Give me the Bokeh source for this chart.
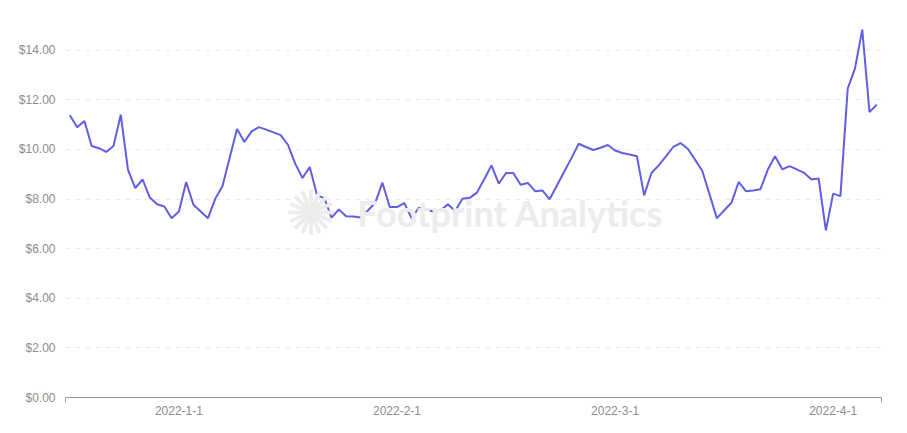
from bokeh.plotting import figure
from bokeh.models import Range1d, FixedTicker, NumeralTickFormatter, Label
from bokeh.embed import file_html
from bokeh.resources import INLINE

# Daily price values (USD)
price = [
    11.38, 10.90, 11.15, 10.14, 10.05, 9.90, 10.14, 11.40, 9.18, 8.44,
    8.79, 8.06, 7.79, 7.70, 7.23, 7.50, 8.69, 7.77, 7.50, 7.23,
    8.01, 8.53, 9.69, 10.83, 10.30, 10.73, 10.90, 10.80, 10.69, 10.58,
    10.19, 9.43, 8.85, 9.29, 8.15, 8.04, 7.25, 7.58, 7.31, 7.30,
    7.26, 7.54, 7.85, 8.66, 7.68, 7.68, 7.84, 7.23, 7.65, 7.58,
    7.50, 7.54, 7.79, 7.52, 8.01, 8.05, 8.26, 8.80, 9.36, 8.62,
    9.05, 9.05, 8.58, 8.65, 8.32, 8.35, 7.99, 8.55, 9.10, 9.65,
    10.23, 10.10, 9.98, 10.07, 10.18, 9.96, 9.86, 9.80, 9.73, 8.15,
    9.05, 9.36, 9.72, 10.10, 10.26, 10.03, 9.59, 9.13, 8.19, 7.23,
    7.54, 7.85, 8.69, 8.32, 8.35, 8.40, 9.18, 9.73, 9.20, 9.33,
    9.20, 9.06, 8.79, 8.83, 6.74, 8.22, 8.12, 12.45, 13.26, 14.83,
    11.51, 11.81,
]
x_index = list(range(len(price)))

# x-axis category labels (index of category -> label)
x_tick_index = [15, 45, 75, 105]
x_tick_labels = ["2022-1-1", "2022-2-1", "2022-3-1", "2022-4-1"]
y_ticks = [0, 2, 4, 6, 8, 10, 12, 14]

p = figure(
    width=891, height=417,
    output_backend="svg", toolbar_location=None,
    x_range=Range1d(-0.6, len(price) - 1 + 0.65),
    y_range=Range1d(0, 15.2),
    min_border_left=65, min_border_right=10,
    min_border_top=20, min_border_bottom=20,
)
p.outline_line_color = None
p.background_fill_color = "white"
p.border_fill_color = "white"

# watermark
p.add_layout(Label(x=60.6, y=7.42, text="Footprint Analytics", text_align="center",
                   text_baseline="middle", text_font="Lato", text_font_style="bold",
                   text_font_size="36px", text_color="#ececec"))
p.add_layout(Label(x=33.2, y=7.42, text="✺", text_align="center",
                   text_baseline="middle", text_font="DejaVu Sans",
                   text_font_size="62px", text_color="#ececec"))

p.line(x_index, price, line_color="#5f5fe3", line_width=2)

# y axis
p.yaxis.ticker = FixedTicker(ticks=y_ticks)
p.yaxis.formatter = NumeralTickFormatter(format="$0.00")
p.yaxis.axis_line_color = None
p.yaxis.major_tick_line_color = None
p.yaxis.minor_tick_line_color = None
p.yaxis.major_tick_out = 0
p.yaxis.major_label_standoff = 10
p.yaxis.major_label_text_font = "Liberation Sans"
p.yaxis.major_label_text_font_size = "12px"
p.yaxis.major_label_text_color = "#8c8c8c"

# x axis
lo, hi = p.x_range.start, p.x_range.end
p.xaxis.ticker = FixedTicker(ticks=x_tick_index, minor_ticks=[lo, hi])
p.xaxis.major_label_overrides = dict(zip(x_tick_index, x_tick_labels))
p.xaxis.axis_line_color = "#999999"
p.xaxis.axis_line_width = 1
p.xaxis.major_tick_line_color = None
p.xaxis.major_tick_out = 0
p.xaxis.major_tick_in = 0
p.xaxis.minor_tick_line_color = "#999999"
p.xaxis.minor_tick_out = 5
p.xaxis.minor_tick_in = 0
p.xaxis.major_label_standoff = 3
p.xaxis.major_label_text_font = "Liberation Sans"
p.xaxis.major_label_text_font_size = "12px"
p.xaxis.major_label_text_color = "#8c8c8c"

# grid
p.xgrid.grid_line_color = None
p.ygrid.grid_line_color = "#ebebeb"
p.ygrid.grid_line_dash = "5 5"
p.ygrid.grid_line_width = 1

open("out.html", "w").write(file_html(p, INLINE))
